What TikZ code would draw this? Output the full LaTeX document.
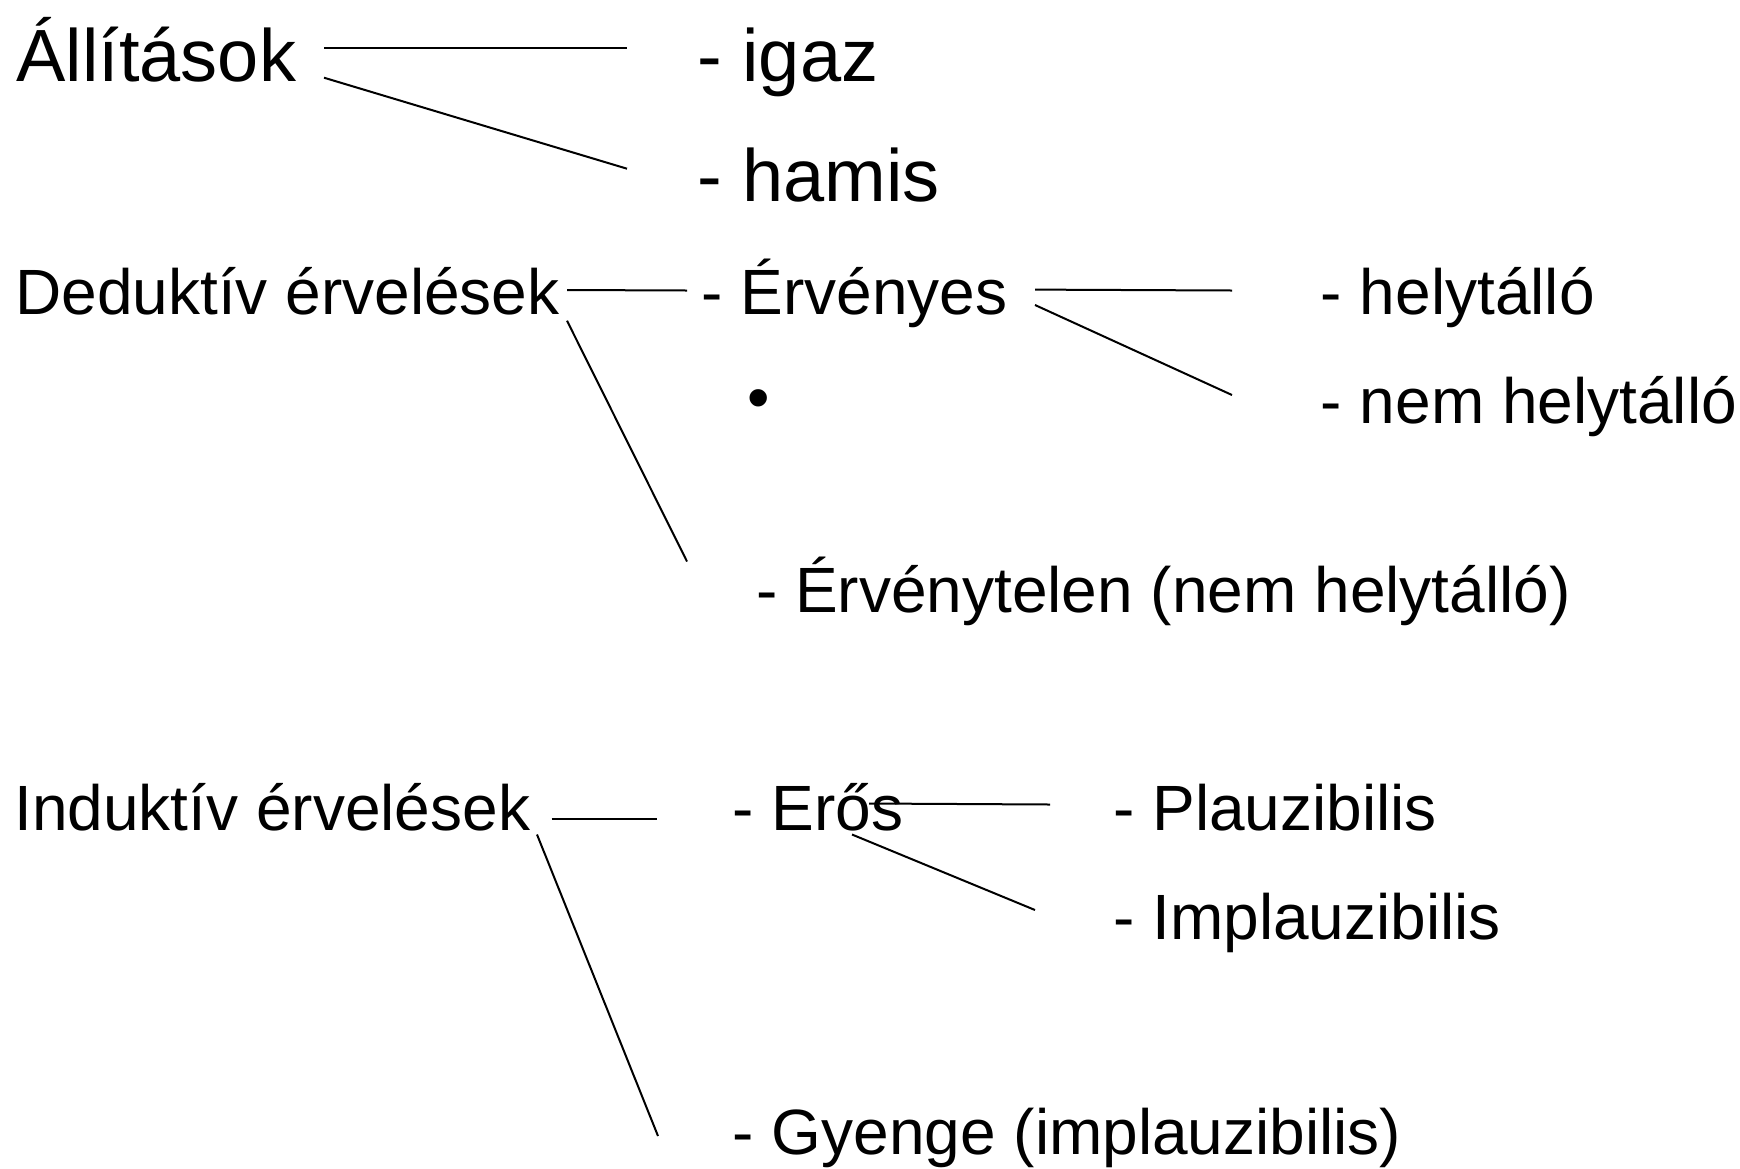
\documentclass[tikz,border=0pt]{standalone}
\usepackage{fontspec}
\setmainfont{Liberation Sans}
\begin{document}
\begin{tikzpicture}[x=0.5pt,y=-0.5pt,
  big/.style={anchor=base west,inner sep=0pt,font=\fontsize{37pt}{44pt}\selectfont},
  item/.style={anchor=base west,inner sep=0pt,font=\fontsize{32pt}{38pt}\selectfont},
  link/.style={line width=1pt,black}]
\useasboundingbox (0,0) rectangle (1740,1168);
% texts
\node[big]  (allit)   at (16,81)     {Állítások};
\node[big]  (igaz)    at (697,81)    {- igaz};
\node[big]  (hamis)   at (697,201)   {- hamis};
\node[item] (dedukt)  at (15,314)    {Deduktív érvelések};
\node[item] (erv)     at (701,314)   {- Érvényes};
\node[item] (bullet)  at (747,419)   {•};
\node[item] (helyt)   at (1320.5,314) {- helytálló};
\node[item] (nemhely) at (1320.5,423) {- nem helytálló};
\node[item] (ervtel)  at (755.7,612) {- Érvénytelen (nem helytálló)};
\node[item] (indukt)  at (14,830)    {Induktív érvelések};
\node[item] (eros)    at (732.4,830) {- Erős};
\node[item] (plauz)   at (1113,830)  {- Plauzibilis};
\node[item] (implauz) at (1113,939)  {- Implauzibilis};
\node[item] (gyenge)  at (732.4,1154) {- Gyenge (implauzibilis)};
% connector end points
\coordinate (a1) at (324,47.7);   \coordinate (igazL) at (627,47.7);
\coordinate (a2) at (324,77.7);   \coordinate (hamisL) at (627,168.7);
\coordinate (d1) at (567,290);    \coordinate (ervL) at (687,290.5);
\coordinate (d2) at (567,320.7);  \coordinate (ervtelL) at (687,561.5);
\coordinate (e1) at (1035,289.6); \coordinate (helytL) at (1232,290.5);
\coordinate (e2) at (1035,305);   \coordinate (nemhelyL) at (1232,395);
\coordinate (i1) at (551.5,819);  \coordinate (erosL) at (657,819);
\coordinate (i2) at (537,834.5);  \coordinate (gyengeL) at (658,1136);
\coordinate (s1) at (869,803.5);  \coordinate (plauzL) at (1050,804.5);
\coordinate (s2) at (852,834.5);  \coordinate (implauzL) at (1035,910);
% connectors
\draw[link] (a1) -- (igazL);
\draw[link] (a2) -- (hamisL);
\draw[link] (d1) -- (ervL);
\draw[link] (d2) -- (ervtelL);
\draw[link] (e1) -- (helytL);
\draw[link] (e2) -- (nemhelyL);
\draw[link] (i1) -- (erosL);
\draw[link] (i2) -- (gyengeL);
\draw[link] (s1) -- (plauzL);
\draw[link] (s2) -- (implauzL);
\end{tikzpicture}
\end{document}
